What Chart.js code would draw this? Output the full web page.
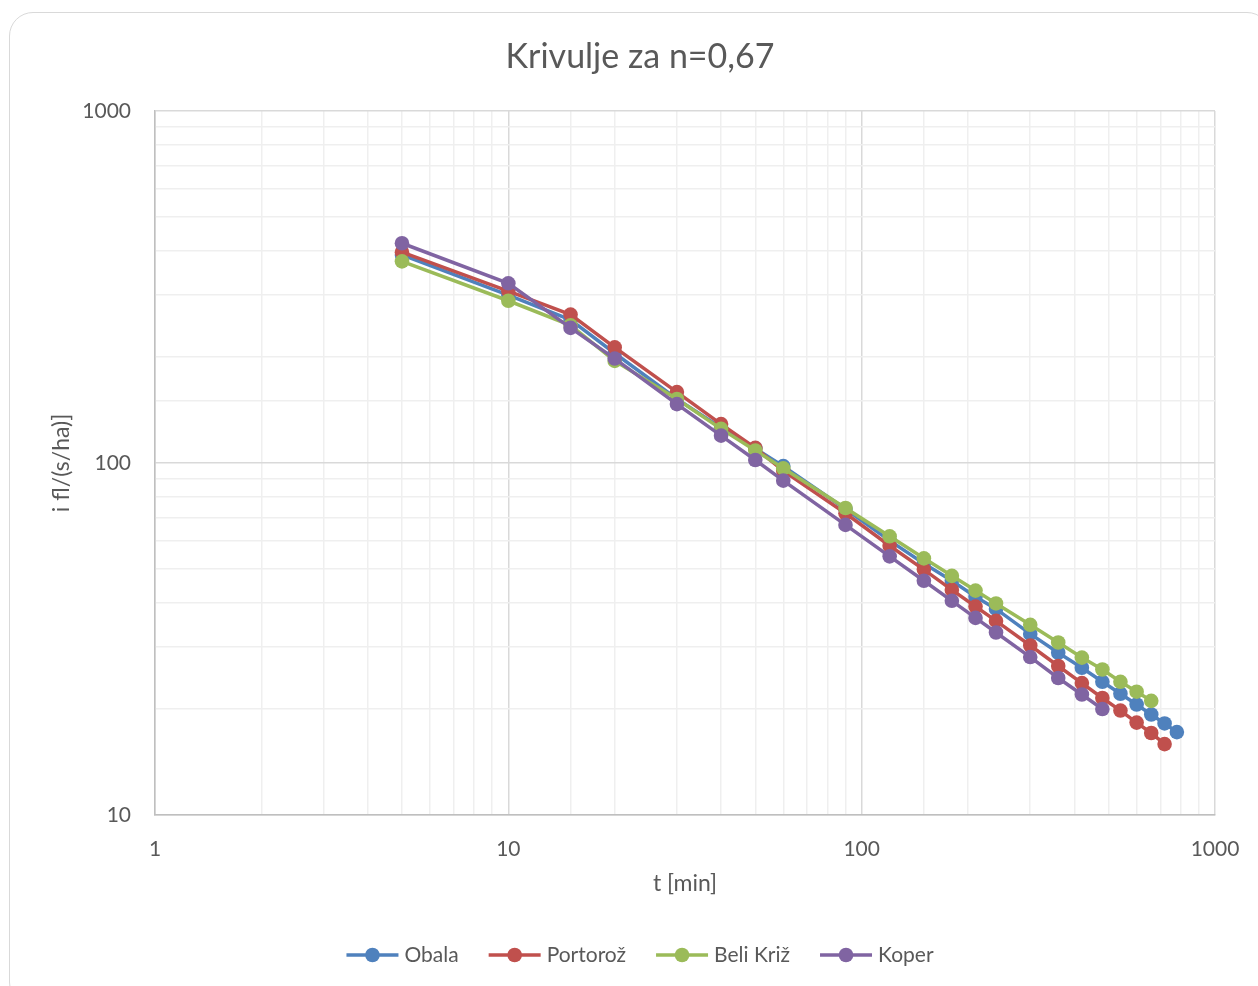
<!DOCTYPE html>
<html><head><meta charset="utf-8">
<script src="https://cdn.jsdelivr.net/npm/chart.js@4.4.0/dist/chart.umd.min.js"></script>
<style>
html,body{margin:0;padding:0;background:#fff;}
#wrap{position:relative;width:1258px;height:986px;overflow:hidden;}
#frame{position:absolute;left:9px;top:12px;width:1262px;height:994px;border:1px solid #d9d9d9;border-radius:24px;box-sizing:border-box;}
canvas{position:absolute;left:0;top:0;}
</style></head><body>
<div id="wrap"><div id="frame"></div><canvas id="c" width="1258" height="986"></canvas></div>
<script>
const times = [5,10,15,20,30,40,50,60,90,120,150,180,210,240,300,360,420,480,540,600,660,720,780];
const obala = [390,300,255,205,152,126,110,98,74,60.2,51.8,46.3,41.7,38.5,32.7,28.9,26.2,23.9,22.1,20.6,19.3,18.2,17.2];
const portoroz = [397,308,264,213,159,129,110.4,95,72,58.2,49.8,43.6,39.1,35.6,30.3,26.5,23.7,21.5,19.8,18.3,17.1,15.9];
const beliKriz = [374,289,246,195,152,125,108.5,96.6,74.5,61.9,53.6,47.8,43.4,39.9,34.7,30.9,28.0,25.9,23.9,22.4,21.1];
const koper = [421,324,242,198,147,119.6,102,89.1,66.7,54.3,46.3,40.6,36.3,33.0,28.1,24.5,22.0,20.0];
const seriesNames = ['Obala','Portorož','Beli Križ','Koper'];
const seriesColors = ['#4f81bd','#c0504d','#9bbb59','#8064a2'];
const xTickLabels = [1,10,100,1000];
const yTickLabels = [10,100,1000];
const titleText = 'Krivulje za n=0,67';
const xTitle = 't [min]';
const yTitle = 'i fl/(s/ha)]';

const FONT = 'Lato';
const TXT = '#595959';
const allVals = [obala, portoroz, beliKriz, koper];

function toPts(vals){ return vals.map((v,i)=>({x:times[i], y:v})); }
function isPow10(v){ const l=Math.log10(v); return Math.abs(l-Math.round(l))<1e-9; }

const datasets = allVals.map((vals,i)=>({
  label: seriesNames[i],
  data: toPts(vals),
  borderColor: seriesColors[i],
  backgroundColor: seriesColors[i],
  pointBackgroundColor: seriesColors[i],
  pointBorderColor: seriesColors[i],
  pointRadius: 7.3,
  pointHoverRadius: 7.3,
  pointBorderWidth: 0,
  borderWidth: 3.5,
  showLine: true,
  tension: 0,
  order: 4 - i
}));

const textPlugin = {
  id: 'texts',
  afterDraw(chart){
    const ctx = chart.ctx;
    const ca = chart.chartArea;
    ctx.save();
    ctx.fillStyle = TXT;
    ctx.textBaseline = 'middle';
    ctx.textAlign = 'center';
    ctx.font = '34px ' + FONT;
    ctx.fillText(titleText, 640, 57);
    ctx.font = '23px ' + FONT;
    ctx.fillText(xTitle, (ca.left+ca.right)/2, 884);
    ctx.save();
    ctx.translate(62, (ca.top+ca.bottom)/2);
    ctx.rotate(-Math.PI/2);
    ctx.fillText(yTitle, 0, 0);
    ctx.restore();
    // legend
    ctx.font = '21px ' + FONT;
    const lineLen = 52, gapTxt = 6, gapItem = 30;
    const widths = seriesNames.map(n=>lineLen+gapTxt+ctx.measureText(n).width);
    const total = widths.reduce((a,b)=>a+b,0) + gapItem*(seriesNames.length-1);
    let x = 640 - total/2;
    const ly = 955;
    seriesNames.forEach((n,i)=>{
      ctx.strokeStyle = seriesColors[i];
      ctx.lineWidth = 3.5;
      ctx.beginPath(); ctx.moveTo(x, ly); ctx.lineTo(x+lineLen, ly); ctx.stroke();
      ctx.fillStyle = seriesColors[i];
      ctx.beginPath(); ctx.arc(x+lineLen/2, ly, 7.3, 0, Math.PI*2); ctx.fill();
      ctx.fillStyle = TXT;
      ctx.textAlign = 'left';
      ctx.fillText(n, x+lineLen+gapTxt, ly);
      x += widths[i] + gapItem;
    });
    ctx.restore();
  }
};

new Chart(document.getElementById('c'), {
  type: 'scatter',
  data: { datasets },
  options: {
    responsive: false,
    devicePixelRatio: 1,
    animation: false,
    events: [],
    layout: { padding: { left: 0, right: 43, top: 111, bottom: 0 } },
    plugins: { legend: { display: false }, title: { display: false }, tooltip: { enabled: false } },
    scales: {
      x: {
        type: 'logarithmic',
        min: 1, max: 1000,
        afterFit(s){ s.height = 171; s.paddingLeft = 0; s.paddingRight = 0; },
        grid: {
          color: c => (c.tick && isPow10(c.tick.value)) ? '#d9d9d9' : '#efefef',
          lineWidth: 1.5,
          drawTicks: false
        },
        border: { color: '#bfbfbf', width: 1.5 },
        ticks: {
          autoSkip: false, maxRotation: 0, padding: 22,
          color: TXT, font: { family: FONT, size: 21 },
          callback: v => xTickLabels.includes(v) ? String(v) : ''
        }
      },
      y: {
        type: 'logarithmic',
        min: 10, max: 1000,
        afterFit(s){ s.width = 155; s.paddingTop = 0; s.paddingBottom = 0; },
        grid: {
          color: c => (c.tick && isPow10(c.tick.value)) ? '#d9d9d9' : '#efefef',
          lineWidth: 1.5,
          drawTicks: false
        },
        border: { color: '#bfbfbf', width: 1.5 },
        ticks: {
          autoSkip: false, padding: 24,
          color: TXT, font: { family: FONT, size: 21 },
          callback: v => yTickLabels.includes(v) ? String(v) : ''
        }
      }
    }
  },
  plugins: [textPlugin]
});
</script>
</body></html>
